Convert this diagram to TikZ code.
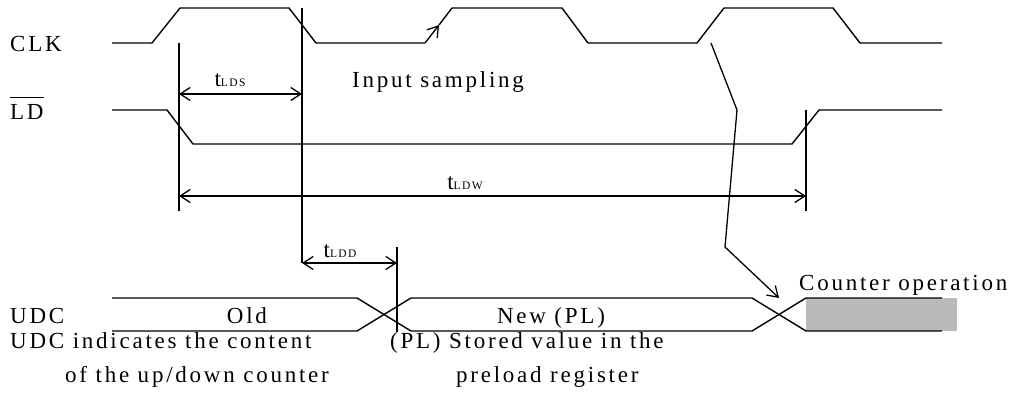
\documentclass[tikz,border=0pt]{standalone}
\usepackage{fontspec}
\setmainfont{Liberation Serif}[LetterSpace=12]
\usetikzlibrary{arrows.meta,positioning}
\newcommand{\tsub}[1]{{\fontsize{11.5}{12}\selectfont #1}}

\begin{document}
\begin{tikzpicture}[x=1pt, y=-1pt,
		wave/.style={line width=1.4pt, line join=miter},
		guide/.style={line width=1.3pt},
		dim/.style={line width=1.3pt, {Straight Barb[length=10pt,width=13pt]}-{Straight Barb[length=10pt,width=13pt]}},
		pointer/.style={line width=1.3pt, -{Straight Barb[length=10pt,width=13pt]}},
		txt/.style={anchor=base west, inner sep=0pt, font=\fontsize{23}{27}\selectfont},
		ctxt/.style={txt, anchor=base}
]
\useasboundingbox (0,0) rectangle (1017,401);

% signal names
\node [txt] (CLK) at (10,52) {CLK};
\node [txt] (LD) at (10,120) {$\overline{\mbox{LD}\rule{0pt}{21pt}}$};
\node [txt] (UDC) at (10,323) {UDC};

% waveforms
\draw [wave] (112,43) -- (152,43) -- (180,8) -- (289,8) -- (316,43) -- (425,43);
\draw [pointer] (425,43) -- (439,25);
\draw [wave] (439,25) -- (452,8) -- (562,8) -- (588,43) -- (697,43) -- (724,8)
	-- (833,8) -- (860,43) -- (942,43);
\draw [wave] (112,110) -- (167,110) -- (193,144) -- (792,144) -- (819,110) -- (942,110);
\fill [black!27] (806,298) rectangle (957,331);
\draw [wave] (112,298) -- (357,298) -- (411,331) -- (752,331) -- (806,298) -- (942,298);
\draw [wave] (112,331) -- (357,331) -- (411,298) -- (752,298) -- (806,331) -- (942,331);

% reference lines
\coordinate (ldsA) at (179,43);
\coordinate (ldsB) at (179,211);
\coordinate (clkE) at (302,8);
\coordinate (clkF) at (302,263);
\coordinate (ldwA) at (806,110);
\coordinate (ldwB) at (806,211);
\coordinate (lddA) at (397,247);
\coordinate (lddB) at (397,332);
\draw [guide] (ldsA) -- (ldsB);
\draw [guide] (clkE) -- (clkF);
\draw [guide] (ldwA) -- (ldwB);
\draw [guide] (lddA) -- (lddB);

% timing arrows
\draw [dim] (179,94) -- (302,94);
\draw [dim] (179,196) -- (806,196);
\draw [dim] (302,263) -- (397,263);
\node [ctxt] (tLDS) at (230,87) {t\tsub{LDS}};
\node [ctxt] (tLDW) at (465,189) {t\tsub{LDW}};
\node [ctxt] (tLDD) at (340,257) {t\tsub{LDD}};

% sampling edge to counter start
\coordinate (smp) at (711,43);
\coordinate (bend1) at (737,110);
\coordinate (bend2) at (725,247);
\coordinate (cnt) at (779,298);
\draw [pointer] (smp) -- (bend1) -- (bend2) -- (cnt);

% texts
\node [txt] (sampling) at (352,88) {Input sampling};
\node [ctxt] (old) at (247,323) {Old};
\node [ctxt] (new) at (551,323) {New (PL)};
\node [txt] (count) at (799,290) {Counter operation};
\node [txt] (udcA) at (10,348) {UDC indicates the content};
\node [txt] (udcB) at (65,382) {of the up/down counter};
\node [txt] (plA) at (390,348) {(PL) Stored value in the};
\node [txt] (plB) at (456,382) {preload register};

\end{tikzpicture}
\end{document}
